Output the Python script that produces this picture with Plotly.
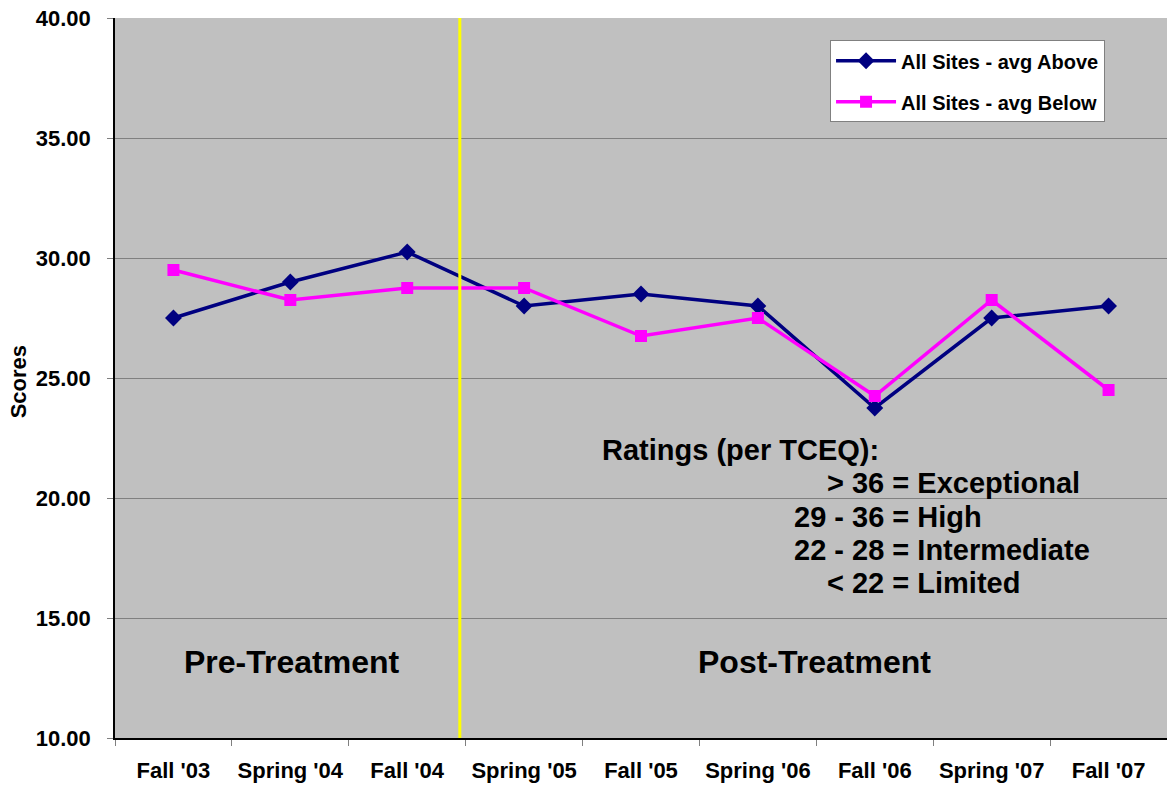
import plotly.graph_objects as go

# Survey periods and average scores per group
periods = ["Fall '03", "Spring '04", "Fall '04", "Spring '05", "Fall '05",
           "Spring '06", "Fall '06", "Spring '07", "Fall '07"]
avg_above = [27.5, 29.0, 30.25, 28.0, 28.5, 28.0, 23.75, 27.5, 28.0]
avg_below = [29.5, 28.25, 28.75, 28.75, 26.75, 27.5, 24.25, 28.25, 24.5]

FONT = "Liberation Sans, Arial, sans-serif"

fig = go.Figure()
fig.add_trace(go.Scatter(
    x=periods, y=avg_above, name="All Sites - avg Above", mode="lines+markers",
    line=dict(color="#000080", width=3.5),
    marker=dict(symbol="diamond", size=13, color="#000080"),
    legendgroup="a",
))
fig.add_trace(go.Scatter(
    x=periods, y=avg_below, name="All Sites - avg Below", mode="lines+markers",
    line=dict(color="#FF00FF", width=3.5),
    marker=dict(symbol="square", size=12, color="#FF00FF"),
    legendgroup="b",
))

# Divider between pre- and post-treatment periods
fig.add_shape(type="line", xref="x", yref="paper", x0=2.45, x1=2.45, y0=0, y1=1,
              line=dict(color="#FFFF00", width=3))

bold = dict(family=FONT, color="black", weight="bold")
annotations = [
    dict(text="Pre-Treatment", x=1.01, y=13.17, xanchor="center", font=dict(size=32, **bold)),
    dict(text="Post-Treatment", x=5.48, y=13.17, xanchor="center", font=dict(size=32, **bold)),
    dict(text="Ratings (per TCEQ):", x=3.65, y=22.0, xanchor="left", font=dict(size=29, **bold)),
    dict(text="&gt; 36 = Exceptional", x=5.574, y=20.625, xanchor="left", font=dict(size=29, **bold)),
    dict(text="29 - 36 = High", x=5.29, y=19.21, xanchor="left", font=dict(size=29, **bold)),
    dict(text="22 - 28 = Intermediate", x=5.29, y=17.83, xanchor="left", font=dict(size=29, **bold)),
    dict(text="&lt; 22 = Limited", x=5.574, y=16.46, xanchor="left", font=dict(size=29, **bold)),
]
for a in annotations:
    fig.add_annotation(xref="x", yref="y", showarrow=False, yanchor="middle", **a)

fig.add_annotation(text="Scores", xref="paper", yref="paper", x=0, y=0.494,
                   xshift=-97, textangle=-90, showarrow=False,
                   xanchor="center", yanchor="middle", font=dict(size=22, **bold))

fig.update_layout(
    width=1167, height=789,
    margin=dict(l=115, r=0, t=18, b=51),
    paper_bgcolor="white",
    plot_bgcolor="#C0C0C0",
    font=dict(family=FONT, size=20, color="black"),
    showlegend=True,
    legend=dict(
        x=0.6797, y=0.969, xanchor="left", yanchor="top",
        bgcolor="white", bordercolor="#808080", borderwidth=1,
        font=dict(size=20, **bold),
        traceorder="grouped", tracegroupgap=12,
        itemwidth=60,
    ),
    xaxis=dict(
        type="category", range=[-0.5, 8.5], tickson="boundaries",
        ticks="outside", ticklen=6, tickcolor="#808080",
        showline=True, linecolor="black", linewidth=1.5,
        showgrid=False, tickfont=dict(size=22, **bold),
        ticklabelstandoff=12,
    ),
    yaxis=dict(
        range=[10, 40], dtick=5, tickformat=".2f",
        ticks="outside", ticklen=6, tickcolor="#808080",
        showline=True, linecolor="black", linewidth=1.5,
        showgrid=True, gridcolor="#808080", gridwidth=1,
        zeroline=False, tickfont=dict(size=22, **bold),
        ticklabelstandoff=12,
    ),
)

fig.write_html("out.html")
